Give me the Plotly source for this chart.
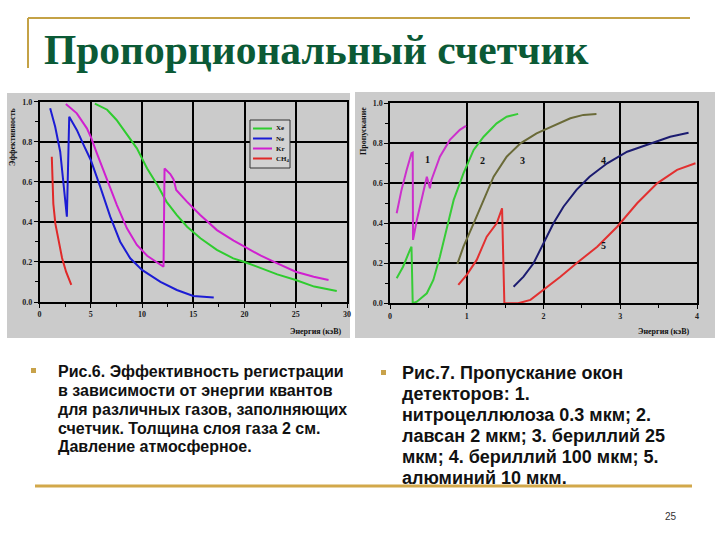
import plotly.graph_objects as go

W, H = 720, 540

# ---------------- Data: Fig.6 (efficiency vs energy, keV) ----------------
xe_x = [5.4, 6.6, 7.5, 8.5, 9.5, 10.5, 11.5, 12.4, 13.4, 14.4, 15.7, 17.3, 18.9, 20.0, 21.6, 23.2, 25.0, 26.8, 29.0]
xe_y = [0.99, 0.96, 0.91, 0.84, 0.767, 0.667, 0.584, 0.5, 0.434, 0.376, 0.318, 0.26, 0.218, 0.2, 0.168, 0.138, 0.11, 0.077, 0.055]

ne_x = [1.04, 1.53, 2.02, 2.44, 2.67, 2.9, 3.64, 4.3, 5.0, 5.92, 6.9, 7.87, 8.85, 10.0, 11.8, 13.4, 15.0, 17.0]
ne_y = [0.967, 0.875, 0.75, 0.559, 0.426, 0.925, 0.859, 0.784, 0.709, 0.576, 0.426, 0.301, 0.218, 0.16, 0.101, 0.06, 0.03, 0.023]

kr_x = [2.57, 3.64, 4.62, 5.0, 5.6, 6.57, 7.55, 8.53, 9.5, 10.5, 11.45, 12.1, 12.2, 12.76, 13.08, 13.34, 14.38, 15.68, 17.31, 18.94, 20.0, 21.6, 23.2, 25.0, 26.75, 28.2]
kr_y = [0.988, 0.942, 0.867, 0.825, 0.742, 0.617, 0.484, 0.368, 0.285, 0.231, 0.196, 0.176, 0.667, 0.639, 0.612, 0.559, 0.501, 0.434, 0.359, 0.306, 0.276, 0.231, 0.193, 0.151, 0.126, 0.11]

ch4_x = [1.2, 1.25, 1.35, 1.55, 1.9, 2.2, 2.6, 3.1]
ch4_y = [0.725, 0.6, 0.49, 0.39, 0.29, 0.22, 0.15, 0.085]

gas_names = ["Xe", "Ne", "Kr", "CH<sub>4</sub>"]

# ---------------- Data: Fig.7 (window transmission vs energy, keV) ----------------
w1_x = [0.087, 0.15, 0.217, 0.28, 0.296, 0.30, 0.35, 0.41, 0.48, 0.52, 0.54, 0.65, 0.78, 0.91, 0.99]
w1_y = [0.45, 0.567, 0.667, 0.75, 0.753, 0.317, 0.417, 0.517, 0.633, 0.575, 0.617, 0.733, 0.817, 0.867, 0.887]

w2_x = [0.087, 0.17, 0.26, 0.28, 0.296, 0.35, 0.48, 0.565, 0.65, 0.74, 0.83, 0.957, 1.09, 1.22, 1.39, 1.52, 1.67]
w2_y = [0.125, 0.183, 0.267, 0.283, 0.0, 0.008, 0.05, 0.117, 0.233, 0.383, 0.517, 0.65, 0.767, 0.833, 0.9, 0.933, 0.947]

w3_x = [0.878, 0.957, 1.09, 1.22, 1.35, 1.52, 1.7, 1.91, 2.13, 2.35, 2.52, 2.69]
w3_y = [0.197, 0.283, 0.4, 0.517, 0.633, 0.733, 0.8, 0.85, 0.887, 0.925, 0.942, 0.947]

w4_x = [1.61, 1.74, 1.87, 2.0, 2.13, 2.26, 2.43, 2.6, 2.83, 3.09, 3.39, 3.65, 3.89]
w4_y = [0.083, 0.133, 0.2, 0.3, 0.4, 0.483, 0.567, 0.633, 0.7, 0.758, 0.8, 0.833, 0.853]

w5_x = [0.89, 1.0, 1.13, 1.26, 1.39, 1.46, 1.49, 1.67, 1.83, 2.0, 2.22, 2.43, 2.7, 2.96, 3.22, 3.48, 3.74, 3.98]
w5_y = [0.092, 0.142, 0.217, 0.333, 0.4, 0.475, 0.0, 0.0, 0.017, 0.067, 0.133, 0.2, 0.283, 0.383, 0.5, 0.6, 0.667, 0.7]

curve_labels = ["1", "2", "3", "4", "5"]
label_x = [0.49, 1.2, 1.73, 2.78, 2.78]
label_y = [0.72, 0.713, 0.713, 0.713, 0.29]

# ---------------- Texts ----------------
title_text = "Пропорциональный счетчик"
left_lines = ["Рис.6. Эффективность регистрации",
              "в зависимости от энергии квантов",
              "для различных газов, заполняющих",
              "счетчик. Толщина слоя газа 2 см.",
              "Давление атмосферное."]
right_lines = ["Рис.7. Пропускание окон",
               "детекторов: 1.",
               "нитроцеллюлоза 0.3 мкм; 2.",
               "лавсан 2 мкм; 3. бериллий 25",
               "мкм; 4. бериллий 100 мкм; 5.",
               "алюминий 10 мкм."]

def px(x):
    return x / W

def py(y):
    return 1 - y / H

fig = go.Figure()

gas_cols = ["#2ecc2e", "#1c1cd4", "#d020d0", "#e02828"]
for xs, ys, nm, c in zip([xe_x, ne_x, kr_x, ch4_x], [xe_y, ne_y, kr_y, ch4_y], gas_names, gas_cols):
    fig.add_trace(go.Scatter(x=xs, y=ys, mode="lines", name=nm, showlegend=False,
                             line=dict(color=c, width=2), xaxis="x", yaxis="y"))

win_cols = ["#cc30cc", "#36cc36", "#6a6a38", "#1c1c70", "#e23030"]
for xs, ys, c in zip([w1_x, w2_x, w3_x, w4_x, w5_x], [w1_y, w2_y, w3_y, w4_y, w5_y], win_cols):
    fig.add_trace(go.Scatter(x=xs, y=ys, mode="lines", showlegend=False,
                             line=dict(color=c, width=2), xaxis="x2", yaxis="y2"))

tickf = dict(family="Liberation Serif", size=8, color="#222", weight="bold")
common = dict(showline=True, linecolor="black", linewidth=1.5, mirror=True, automargin=False,
              showgrid=True, gridcolor="black", gridwidth=2, zeroline=False,
              ticks="outside", ticklen=4, tickcolor="black", tickfont=tickf)

fig.update_layout(
    width=W, height=H, margin=dict(l=0, r=0, t=0, b=0, autoexpand=False),
    paper_bgcolor="white", plot_bgcolor="#cbcbcb",
    showlegend=False,
    xaxis=dict(domain=[px(39.5), px(347)], range=[0, 30], dtick=5, anchor="y",
               minor=dict(ticks="outside", dtick=2.5, ticklen=3, tickcolor="black"), **common),
    yaxis=dict(domain=[py(302), py(101.7)], range=[0, 1], dtick=0.2, tickformat=".1f", anchor="x",
               minor=dict(ticks="outside", dtick=0.1, ticklen=3, tickcolor="black"), **common),
    xaxis2=dict(domain=[px(390), px(697)], range=[0, 4], dtick=1, anchor="y2",
                minor=dict(ticks="outside", dtick=0.5, ticklen=3, tickcolor="black"), **common),
    yaxis2=dict(domain=[py(303.3), py(103.3)], range=[0, 1], dtick=0.2, tickformat=".1f", anchor="x2",
                minor=dict(ticks="outside", dtick=0.1, ticklen=3, tickcolor="black"), **common),
)

gold = "#c4a246"
shapes = [
    # gray chart panels
    dict(type="rect", xref="paper", yref="paper", x0=px(7), x1=px(350), y0=py(338), y1=py(93),
         fillcolor="#cbcbcb", line=dict(width=0), layer="below"),
    dict(type="rect", xref="paper", yref="paper", x0=px(355), x1=px(715), y0=py(338), y1=py(92),
         fillcolor="#cbcbcb", line=dict(width=0), layer="below"),
    # gold frame lines
    dict(type="line", xref="paper", yref="paper", x0=px(28), x1=px(690), y0=py(18), y1=py(18),
         line=dict(color=gold, width=2)),
    dict(type="line", xref="paper", yref="paper", x0=px(28), x1=px(28), y0=py(18), y1=py(68),
         line=dict(color=gold, width=2)),
    dict(type="line", xref="paper", yref="paper", x0=px(35), x1=px(692), y0=py(486), y1=py(486),
         line=dict(color="#d2a84a", width=3)),
    # bullets
    dict(type="rect", xref="paper", yref="paper", x0=px(31), x1=px(36), y0=py(373), y1=py(368),
         fillcolor="#c8a24a", line=dict(width=0)),
    dict(type="rect", xref="paper", yref="paper", x0=px(381), x1=px(386), y0=py(375), y1=py(370),
         fillcolor="#c8a24a", line=dict(width=0)),
    # legend box (Fig.6)
    dict(type="rect", xref="paper", yref="paper", x0=px(250), x1=px(290), y0=py(168), y1=py(120),
         fillcolor="#d2d2d2", line=dict(color="#333", width=1)),
]
ann = []
leg_y = [128.5, 138.5, 148.5, 158.5]
for nm, c, ly in zip(gas_names, gas_cols, leg_y):
    shapes.append(dict(type="line", xref="paper", yref="paper", x0=px(253), x1=px(272),
                       y0=py(ly), y1=py(ly), line=dict(color=c, width=2)))
    ann.append(dict(text=nm, xref="paper", yref="paper", x=px(274), y=py(ly),
                    xanchor="left", yanchor="middle", showarrow=False,
                    font=dict(family="Liberation Serif", size=7, color="#111", weight="bold")))
fig.update_layout(shapes=shapes)

ann.append(dict(text=title_text, xref="paper", yref="paper", x=px(42), y=py(50),
                xanchor="left", yanchor="middle", showarrow=False,
                font=dict(family="Liberation Serif", size=41.5, color="#0b5a36", weight="bold")))
axf = dict(family="Liberation Serif", size=8, color="#111", weight="bold")
ann.append(dict(text="Энергия (кэВ)", xref="paper", yref="paper", x=px(316), y=py(331),
                xanchor="center", yanchor="middle", showarrow=False, font=axf))
ann.append(dict(text="Энергия (кэВ)", xref="paper", yref="paper", x=px(664), y=py(331),
                xanchor="center", yanchor="middle", showarrow=False, font=axf))
ann.append(dict(text="Эффективность", xref="paper", yref="paper", x=px(12), y=py(137),
                xanchor="center", yanchor="middle", showarrow=False, textangle=-90, font=axf))
ann.append(dict(text="Пропускание", xref="paper", yref="paper", x=px(363), y=py(131),
                xanchor="center", yanchor="middle", showarrow=False, textangle=-90, font=axf))
for t, lx, ly in zip(curve_labels, label_x, label_y):
    ann.append(dict(text=t, xref="x2", yref="y2", x=lx, y=ly, showarrow=False,
                    font=dict(family="Liberation Serif", size=10, color="#111", weight="bold")))
for i, t in enumerate(left_lines):
    ann.append(dict(text=t, xref="paper", yref="paper", x=px(56), y=py(371 + 19 * i),
                    xanchor="left", yanchor="middle", showarrow=False,
                    font=dict(family="Liberation Sans", size=16, color="#111", weight="bold")))
for i, t in enumerate(right_lines):
    ann.append(dict(text=t, xref="paper", yref="paper", x=px(400), y=py(373 + 21 * i),
                    xanchor="left", yanchor="middle", showarrow=False,
                    font=dict(family="Liberation Sans", size=18, color="#111", weight="bold")))
ann.append(dict(text="25", xref="paper", yref="paper", x=px(671), y=py(516),
                xanchor="center", yanchor="middle", showarrow=False,
                font=dict(family="Liberation Sans", size=10, color="#333")))
fig.update_layout(annotations=ann)

fig.write_html("out.html", config={"displayModeBar": False},
               post_script="document.body.style.margin='0px';")
